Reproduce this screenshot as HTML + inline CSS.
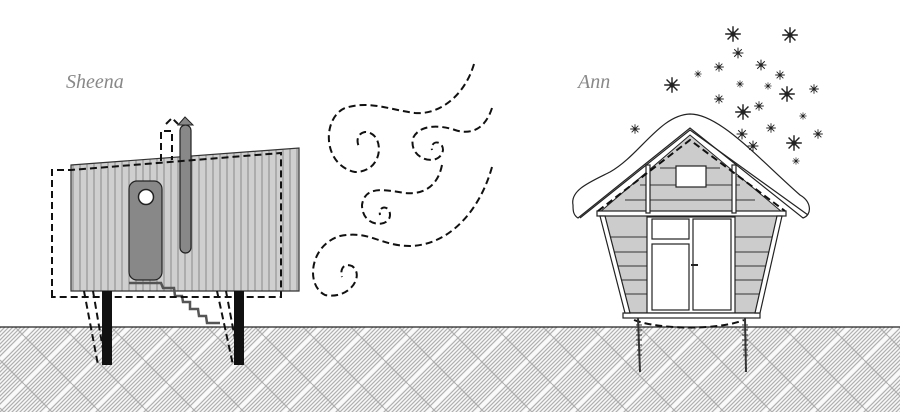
<!DOCTYPE html>
<html><head><style>body{margin:0;width:900px;height:412px;overflow:hidden;background:#fff}</style></head><body>
<svg width="900" height="412" viewBox="0 0 900 412" xmlns="http://www.w3.org/2000/svg">
<defs>
<pattern id="h" width="48" height="48" patternUnits="userSpaceOnUse">
<rect width="48" height="48" fill="#f9f9f9"/>
<g stroke="#b0b0b0" stroke-width="1.2">
<path d="M-4,4 L4,-4 M-4,8 L8,-4 M-4,12 L12,-4 M-4,16 L16,-4 M-4,20 L20,-4 M-4,24 L24,-4 M-4,28 L28,-4 M-4,32 L32,-4 M-4,36 L36,-4 M-4,40 L40,-4 M-4,44 L44,-4 M-4,48 L48,-4 M-4,52 L52,-4 M0,52 L52,0 M4,52 L52,4 M8,52 L52,8 M12,52 L52,12 M16,52 L52,16 M20,52 L52,20 M24,52 L52,24 M28,52 L52,28 M32,52 L52,32 M36,52 L52,36 M40,52 L52,40 M44,52 L52,44"/>
</g>
<path d="M0,24 L24,0 M24,48 L48,24" stroke="#f9f9f9" stroke-width="3"/>
<path d="M0,24 L24,48 M24,0 L48,24" stroke="#b0b0b0" stroke-width="1.2"/>
</pattern>
<pattern id="v" width="7" height="10" patternUnits="userSpaceOnUse"><rect width="7" height="10" fill="#cfcfcf"/><line x1="3" y1="0" x2="3" y2="10" stroke="#888" stroke-width="1"/></pattern>
<g id="s"><path d="M-6,0H6M0,-6V6M-4.2,-4.2L4.2,4.2M-4.2,4.2L4.2,-4.2" stroke="#222" stroke-width="1.1"/><circle r="2" fill="#222"/></g>
</defs>
<rect x="0" y="327" width="900" height="85" fill="url(#h)"/>
<line x1="0" y1="327" x2="900" y2="327" stroke="#222" stroke-width="1.2"/>

<text x="66" y="88" font-family="Liberation Serif" font-style="italic" font-size="20" fill="#888">Sheena</text>
<text x="578" y="88" font-family="Liberation Serif" font-style="italic" font-size="20" fill="#888">Ann</text>

<!-- Sheena -->
<polygon points="71,165 299,148 299,291 71,291" fill="url(#v)" stroke="#333" stroke-width="1.2"/>
<rect x="102" y="291" width="10" height="74" fill="#111"/>
<rect x="234" y="291" width="10" height="74" fill="#111"/>
<path d="M129,283H161L163,288H174L175,296H182L183,302H190L190,309H198L199,316H206L207,323H220" fill="none" stroke="#555" stroke-width="2.5"/>
<rect x="129" y="181" width="33" height="99" rx="8" fill="#888" stroke="#222" stroke-width="1.2"/>
<circle cx="146" cy="197" r="7.5" fill="#fff" stroke="#222" stroke-width="1.5"/>
<rect x="180" y="125" width="11" height="128" rx="5.5" fill="#888" stroke="#222" stroke-width="1.2"/>
<polygon points="178,125 185,117 193,125" fill="#888" stroke="#222"/>
<g fill="none" stroke="#111" stroke-width="2" stroke-dasharray="7,4">
<path d="M52,297 V170 H71 L281,153 V297 Z"/>
<path d="M161,161 V131 H172 V160"/>
<path d="M166,124 L172,118 L178,124"/>
<path d="M84,291 L98,365 M93,291 L104,355"/>
<path d="M217,291 L233,365 M226,291 L238,355"/>
</g>

<!-- wind -->
<g fill="none" stroke="#111" stroke-width="2" stroke-dasharray="7,4">
<path d="M474,64 C465,95 440,115 415,113 C390,110 370,100 345,108 C322,118 322,165 355,172 C385,172 385,132 365,132 C355,134 357,145 360,148"/>
<path d="M492,108 C485,130 470,135 455,130 C440,125 420,124 413,138 C408,160 440,168 443,150 C443,140 430,140 432,150"/>
<path d="M442,165 C438,185 425,195 405,193 C385,190 365,185 362,205 C362,228 390,228 390,215 C390,205 378,205 380,215"/>
<path d="M492,167 C480,210 450,245 410,246 C380,246 370,230 340,236 C310,245 305,285 325,295 C350,300 365,275 352,266 C342,262 340,272 342,277"/>
</g>

<!-- Ann -->
<polygon points="600,215 782,215 757,313 627,313" fill="#ccc" stroke="#222" stroke-width="1.2"/>
<polygon points="600,212 690,135 782,212" fill="#ccc" stroke="#222"/>
<g stroke="#333" stroke-width="1">
<path d="M605,237H777M610,252H773M614,266H770M618,280H766M622,294H763M640,185H740M625,200H755M660,168H720"/>
</g>
<g fill="#fff" stroke="#222" stroke-width="1.2">
<rect x="647" y="217" width="88" height="96"/>
<rect x="652" y="219" width="37" height="20"/>
<rect x="652" y="244" width="37" height="66"/>
<rect x="693" y="219" width="38" height="91"/>
<rect x="676" y="166" width="30" height="21"/>
<rect x="597" y="211" width="189" height="5"/>
<rect x="623" y="313" width="137" height="5"/>
<polygon points="600,216 605,216 630,313 625,313"/>
<polygon points="782,216 777,216 755,313 760,313"/>
<rect x="646" y="165" width="4" height="48"/>
<rect x="732" y="165" width="4" height="48"/>
</g>
<path d="M691,265H698" stroke="#222" stroke-width="2"/>
<path d="M573,205 C570,190 590,182 610,172 C640,155 660,115 690,114 C720,114 760,160 800,195 C812,202 812,215 803,218 L690,128 L578,218 C573,215 573,210 573,205 Z" fill="#fff" stroke="#222" stroke-width="1.2"/>
<path d="M580,218 L690,130 L808,215" fill="none" stroke="#222" stroke-width="1.2"/>
<g fill="none" stroke="#111" stroke-width="2" stroke-dasharray="7,4">
<path d="M598,211 L690,140 L785,211"/>
<path d="M634,320 C660,330 720,330 744,320"/>
</g>
<g stroke="#333" stroke-width="2"><path d="M638,318 L640,372 M745,318 L746,372"/></g>
<g stroke="#333" stroke-width="1"><path d="M636,325h6M636,330h6M636,335h6M636,340h6M636,345h6M637,350h5M637,355h5M742,325h6M742,330h6M742,335h6M742,340h6M742,345h6M743,350h5M743,355h5"/></g>

<!-- stars -->
<g>
<use href="#s" transform="translate(733,34) scale(1.3)"/>
<use href="#s" transform="translate(790,35) scale(1.3)"/>
<use href="#s" transform="translate(738,53) scale(0.9)"/>
<use href="#s" transform="translate(719,67) scale(0.8)"/>
<use href="#s" transform="translate(761,65) scale(0.9)"/>
<use href="#s" transform="translate(780,75) scale(0.8)"/>
<use href="#s" transform="translate(698,74) scale(0.6)"/>
<use href="#s" transform="translate(672,85) scale(1.3)"/>
<use href="#s" transform="translate(740,84) scale(0.6)"/>
<use href="#s" transform="translate(768,86) scale(0.6)"/>
<use href="#s" transform="translate(787,94) scale(1.3)"/>
<use href="#s" transform="translate(814,89) scale(0.8)"/>
<use href="#s" transform="translate(719,99) scale(0.8)"/>
<use href="#s" transform="translate(743,112) scale(1.3)"/>
<use href="#s" transform="translate(759,106) scale(0.8)"/>
<use href="#s" transform="translate(803,116) scale(0.6)"/>
<use href="#s" transform="translate(771,128) scale(0.8)"/>
<use href="#s" transform="translate(635,129) scale(0.8)"/>
<use href="#s" transform="translate(742,134) scale(0.9)"/>
<use href="#s" transform="translate(753,146) scale(0.9)"/>
<use href="#s" transform="translate(794,143) scale(1.3)"/>
<use href="#s" transform="translate(818,134) scale(0.8)"/>
<use href="#s" transform="translate(796,161) scale(0.6)"/>
</g>
</svg>
</body></html>
